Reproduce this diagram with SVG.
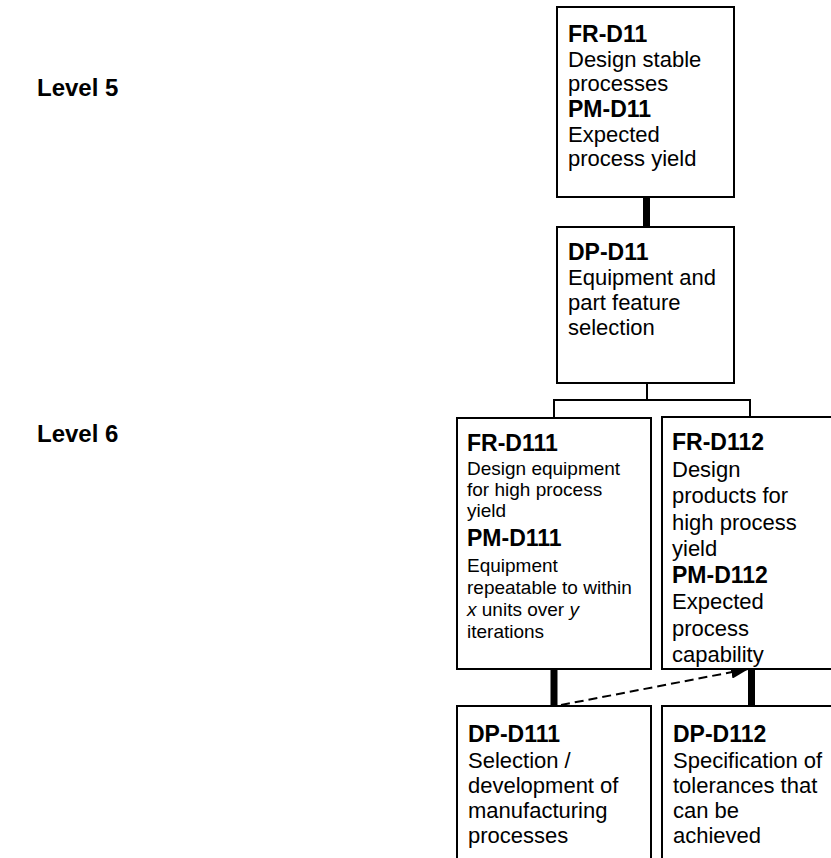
<svg xmlns="http://www.w3.org/2000/svg" width="831" height="858" viewBox="0 0 831 858">
  <style>
    .box { fill: #ffffff; stroke: #000000; stroke-width: 2; }
    .t { font-family: "Liberation Sans", Arial, sans-serif; font-size: 22px; fill: #000000; }
    .s { font-family: "Liberation Sans", Arial, sans-serif; font-size: 19px; fill: #000000; }
    .b { font-family: "Liberation Sans", Arial, sans-serif; font-size: 23px; font-weight: bold; fill: #000000; }
    .lvl { font-family: "Liberation Sans", Arial, sans-serif; font-size: 24px; font-weight: bold; fill: #000000; }
    .thick { stroke: #000000; stroke-width: 7; fill: none; }
    .thin { stroke: #000000; stroke-width: 2; fill: none; }
    .dash { stroke: #000000; stroke-width: 2; stroke-dasharray: 9 5; fill: none; }
  </style>
  <defs>
    <marker id="arrow" viewBox="0 0 18 13" refX="17" refY="6.5" markerWidth="18" markerHeight="13" markerUnits="userSpaceOnUse" orient="auto">
      <path d="M0,0 L18,6.5 L0,13 Z" fill="#000000"/>
    </marker>
  </defs>
  <rect width="831" height="858" fill="#ffffff"/>

  <!-- level labels -->
  <g id="levels">
    <text class="lvl" x="37" y="96">Level 5</text>
    <text class="lvl" x="37" y="442">Level 6</text>
  </g>

  <!-- connectors -->
  <g id="connectors">
    <line class="thick" x1="646.5" y1="197" x2="646.5" y2="227"/>
    <polyline class="thin" points="647,383 647,400"/>
    <polyline class="thin" points="554,418 554,400 750,400 750,417"/>
    <line class="thick" x1="554" y1="669" x2="554" y2="706"/>
    <line class="thick" x1="751.5" y1="669" x2="751.5" y2="706"/>
    <line class="dash" x1="561" y1="705" x2="748" y2="669" marker-end="url(#arrow)"/>
  </g>

  <g id="FR-D11">
    <rect class="box" x="557" y="7" width="177" height="190"/>
    <text class="b" x="568" y="42">FR-D11</text>
    <text class="t" x="568" y="67">Design stable</text>
    <text class="t" x="568" y="91">processes</text>
    <text class="b" x="568" y="117">PM-D11</text>
    <text class="t" x="568" y="142">Expected</text>
    <text class="t" x="568" y="166">process yield</text>
  </g>

  <g id="DP-D11">
    <rect class="box" x="557" y="227" width="177" height="156"/>
    <text class="b" x="568" y="260">DP-D11</text>
    <text class="t" x="568" y="285">Equipment and</text>
    <text class="t" x="568" y="310">part feature</text>
    <text class="t" x="568" y="335">selection</text>
  </g>

  <g id="FR-D111">
    <rect class="box" x="457" y="418" width="194" height="251"/>
    <text class="b" x="467" y="451">FR-D111</text>
    <text class="s" x="467" y="475">Design equipment</text>
    <text class="s" x="467" y="496">for high process</text>
    <text class="s" x="467" y="517">yield</text>
    <text class="b" x="467" y="546">PM-D111</text>
    <text class="s" x="467" y="572">Equipment</text>
    <text class="s" x="467" y="594">repeatable to within</text>
    <text class="s" x="467" y="616"><tspan font-style="italic">x</tspan> units over <tspan font-style="italic">y</tspan></text>
    <text class="s" x="467" y="638">iterations</text>
  </g>

  <g id="FR-D112">
    <rect class="box" x="662" y="417" width="194" height="252"/>
    <text class="b" x="672" y="450">FR-D112</text>
    <text class="t" x="672" y="477">Design</text>
    <text class="t" x="672" y="503">products for</text>
    <text class="t" x="672" y="530">high process</text>
    <text class="t" x="672" y="556">yield</text>
    <text class="b" x="672" y="583">PM-D112</text>
    <text class="t" x="672" y="609">Expected</text>
    <text class="t" x="672" y="636">process</text>
    <text class="t" x="672" y="662">capability</text>
  </g>

  <g id="DP-D111">
    <rect class="box" x="457" y="706" width="194" height="170"/>
    <text class="b" x="468" y="742">DP-D111</text>
    <text class="t" x="468" y="768">Selection /</text>
    <text class="t" x="468" y="793">development of</text>
    <text class="t" x="468" y="818">manufacturing</text>
    <text class="t" x="468" y="843">processes</text>
  </g>

  <g id="DP-D112">
    <rect class="box" x="662" y="706" width="194" height="170"/>
    <text class="b" x="673" y="742">DP-D112</text>
    <text class="t" x="673" y="768">Specification of</text>
    <text class="t" x="673" y="793">tolerances that</text>
    <text class="t" x="673" y="818">can be</text>
    <text class="t" x="673" y="843">achieved</text>
  </g>
</svg>
